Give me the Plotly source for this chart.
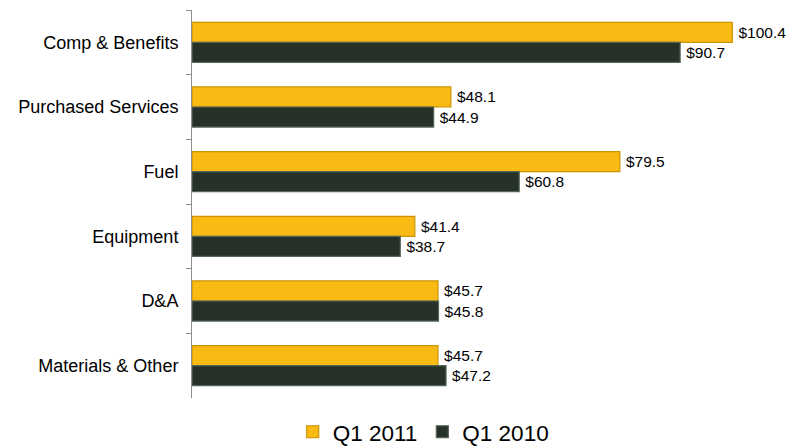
import plotly.graph_objects as go

categories = ["Comp & Benefits", "Purchased Services", "Fuel", "Equipment", "D&A", "Materials & Other"]
q1_2011 = [100.4, 48.1, 79.5, 41.4, 45.7, 45.7]
q1_2010 = [90.7, 44.9, 60.8, 38.7, 45.8, 47.2]
series_names = ["Q1 2011", "Q1 2010"]

FONT = "Liberation Sans, Arial, sans-serif"
LABEL = "\u2009$%{x:.1f}"

fig = go.Figure()
fig.add_trace(go.Bar(
    y=categories, x=q1_2011, name=series_names[0], orientation="h",
    marker=dict(color="#F9BA14", line=dict(color="#C99400", width=1.2)),
    texttemplate=LABEL, textposition="outside",
    textfont=dict(size=15.5, color="#000000", family=FONT),
    cliponaxis=False,
))
fig.add_trace(go.Bar(
    y=categories, x=q1_2010, name=series_names[1], orientation="h",
    marker=dict(color="#263227", line=dict(color="#55655A", width=1.2)),
    texttemplate=LABEL, textposition="outside",
    textfont=dict(size=15.5, color="#000000", family=FONT),
    cliponaxis=False,
))

fig.update_layout(
    width=791, height=446,
    margin=dict(l=192, r=7, t=10, b=48, autoexpand=False),
    paper_bgcolor="white", plot_bgcolor="white",
    barmode="group", bargap=0.38, bargroupgap=0.0,
    font=dict(family=FONT, size=17, color="#000000"),
    showlegend=True,
    legend=dict(
        orientation="h", xref="container", yref="paper",
        x=0.535, xanchor="center", y=-0.088, yanchor="middle",
        font=dict(size=22.5, family=FONT), itemwidth=30,
        traceorder="normal",
    ),
    xaxis=dict(range=[0, 110], visible=False, showgrid=False, zeroline=False),
    yaxis=dict(
        categoryorder="array", categoryarray=categories, autorange="reversed",
        showline=True, linecolor="#8C8C8C", linewidth=1,
        ticks="outside", tickson="boundaries", ticklen=5, tickcolor="#8C8C8C",
        showgrid=False, tickfont=dict(size=18, family=FONT), ticklabelstandoff=9,
    ),
)

fig.write_html("out.html")
